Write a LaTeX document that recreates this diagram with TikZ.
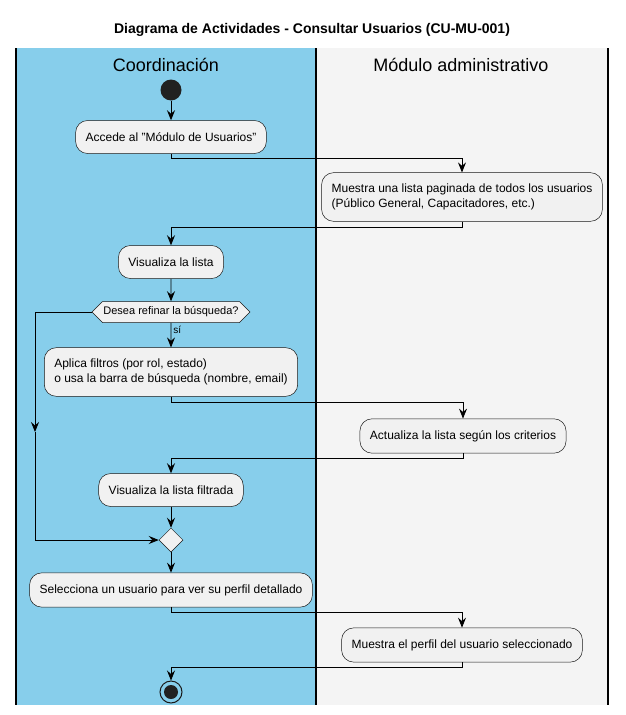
\documentclass[tikz,border=0pt]{standalone}
\usepackage{fontspec}
\setmainfont{Liberation Sans}
\usetikzlibrary{arrows.meta,shapes.geometric,shapes.symbols}
\tikzset{>={Stealth[length=10pt,width=8pt,inset=3.5pt]}}
\definecolor{lanecoord}{HTML}{87CEEB}
\definecolor{lanemod}{HTML}{F4F4F4}
\definecolor{actfill}{HTML}{F1F1F1}
\definecolor{actline}{HTML}{181818}
\tikzset{
  act/.style={draw=actline,fill=actfill,line width=0.5pt,rounded corners=12pt,
    font=\fontsize{12}{14.5}\selectfont,align=left,inner xsep=10pt,inner ysep=11.5pt,minimum height=33pt},
  decide/.style={signal,signal to=west and east,signal pointer angle=90,draw=actline,fill=actfill,
    line width=0.5pt,font=\fontsize{11}{13}\selectfont,inner xsep=1pt,inner ysep=4pt,minimum height=21pt},
  merge/.style={diamond,draw=actline,fill=actfill,line width=0.5pt,minimum width=24pt,minimum height=24pt,inner sep=0pt},
  startdot/.style={circle,fill=black!87,minimum size=21pt,inner sep=0pt},
  enddot/.style={circle,draw=black!90,line width=1pt,minimum size=22pt,inner sep=0pt},
  lanehead/.style={font=\fontsize{18}{21}\selectfont}
}

\begin{document}
\begin{tikzpicture}[x=1pt,y=-1pt]
  \useasboundingbox (0,0) rectangle (625,715);
  % swimlanes
  \fill[lanecoord] (16,48) rectangle (316,705);
  \fill[lanemod] (316,48) rectangle (608,705);
  \draw[line width=1.5pt] (16,48) -- (16,705) (316,48) -- (316,705) (608,48) -- (608,705);
  \node[font=\bfseries\fontsize{14}{16}\selectfont] (title) at (312,30) {Diagrama de Actividades - Consultar Usuarios (CU-MU-001)};
  \node[lanehead] (coord) at (166,65) {Coordinación};
  \node[lanehead] (modadm) at (461,65) {Módulo administrativo};

  \node[startdot] (start) at (171,90) {};
  \node[act] (accede) at (171,137) {Accede al "Módulo de Usuarios"};
  \node[act] (muestra) at (462,197) {Muestra una lista paginada de todos los usuarios\\(Público General, Capacitadores, etc.)};
  \node[act] (visualiza) at (171,262) {Visualiza la lista};
  \node[decide] (refinar) at (171,312) {Desea refinar la búsqueda?};
  \node[act] (aplica) at (171,372) {Aplica filtros (por rol, estado)\\o usa la barra de búsqueda (nombre, email)};
  \node[act] (actualiza) at (463,436) {Actualiza la lista según los criterios};
  \node[act] (filtrada) at (171,490) {Visualiza la lista filtrada};
  \node[merge] (union) at (171,540) {};
  \node[act] (selecciona) at (171,590) {Selecciona un usuario para ver su perfil detallado};
  \node[act] (perfil) at (462,645) {Muestra el perfil del usuario seleccionado};
  \node[enddot] (stop) at (171,692) {};
  \fill[black!87] (stop) circle (7);

  \coordinate (bucle) at (35,432);
  \begin{scope}[->,line width=0.8pt]
    \draw (start) -- (accede);
    \draw (accede.south) -- ++(0,5) -| (muestra.north);
    \draw (muestra.south) -- ++(0,6) -| (visualiza.north);
    \draw (visualiza) -- (refinar);
    \draw (refinar) -- node[pos=0.05,anchor=north west,inner sep=2pt,font=\fontsize{10}{12}\selectfont]{sí} (aplica);
    \draw (refinar.west) -| (bucle);
    \draw (bucle) |- (union.west);
    \draw (aplica.south) -- ++(0,6) -| (actualiza.north);
    \draw (actualiza.south) -- ++(0,5) -| (filtrada.north);
    \draw (filtrada) -- (union);
    \draw (union) -- (selecciona);
    \draw (selecciona.south) -- ++(0,5) -| (perfil.north);
    \draw (perfil.south) -- ++(0,5) -| (stop.north);
  \end{scope}
\end{tikzpicture}
\end{document}
